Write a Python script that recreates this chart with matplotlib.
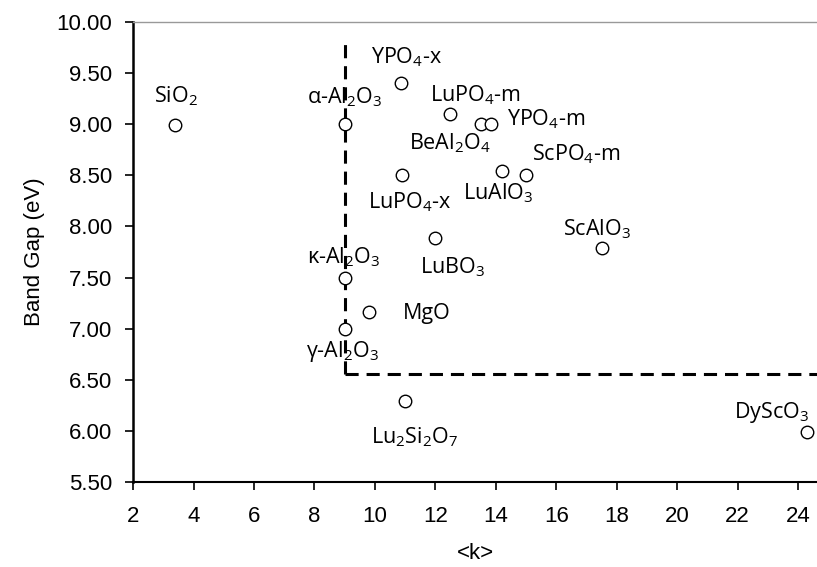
import matplotlib
matplotlib.use("Agg")
import matplotlib.pyplot as plt

# datos
materiales = ["SiO$_2$", "α-Al$_2$O$_3$", "κ-Al$_2$O$_3$", "γ-Al$_2$O$_3$", "MgO",
              "YPO$_4$-x", "LuPO$_4$-x", "LuPO$_4$-m", "BeAl$_2$O$_4$", "YPO$_4$-m",
              "LuAlO$_3$", "ScPO$_4$-m", "LuBO$_3$", "ScAlO$_3$", "Lu$_2$Si$_2$O$_7$",
              "DyScO$_3$"]
k_medio = [3.4, 9.0, 9.0, 9.0, 9.8, 10.85, 10.9, 12.5, 13.5, 13.85, 14.2, 15.0,
           12.0, 17.5, 11.0, 24.3]
band_gap = [8.99, 9.0, 7.5, 7.0, 7.16, 9.40, 8.50, 9.10, 9.0, 9.0, 8.54, 8.50,
            7.89, 7.79, 6.29, 5.99]

# limites de la region de interes
k_limite = 9.0
gap_limite = 6.56
gap_tope = 9.85

# desplazamiento de cada etiqueta (pixeles, x a la derecha, y hacia abajo)
desplazamientos = [(0, -29), (0, -27), (-1, -20), (-2, 23), (58, 1),
                   (6, -26), (8, 27), (25, -19), (-31, 19), (55, -5),
                   (-4, 22), (50, -21), (17, 29), (-5, -19), (9, 36),
                   (-35, -19)]

plt.rcParams["mathtext.default"] = "regular"

fig = plt.figure(figsize=(8.17, 5.67), dpi=100)
ax = fig.add_axes([0.163, 0.150, 0.837, 0.811])

ax.plot([k_limite, k_limite], [gap_limite, gap_tope], color="black",
        linewidth=2.2, linestyle=(0, (4.3, 2.6)), zorder=2)
ax.plot([k_limite, 26], [gap_limite, gap_limite], color="black",
        linewidth=2.2, linestyle=(0, (4.3, 2.6)), zorder=2)

ax.plot(k_medio, band_gap, linestyle="none", marker="o", markersize=9,
        markerfacecolor="white", markeredgecolor="black", markeredgewidth=1.0,
        zorder=3)

for nombre, x, y, (dx, dy) in zip(materiales, k_medio, band_gap, desplazamientos):
    ax.annotate(nombre, (x, y), xytext=(dx * 0.72, -dy * 0.72),
                textcoords="offset points", ha="center", va="center",
                fontsize=15.5, family=["Open Sans", "DejaVu Sans"], zorder=4)

ax.set_xlim(2, 24.63)
ax.set_ylim(5.5, 10.0)
ax.set_xticks(range(2, 25, 2))
ax.set_yticks([5.5, 6.0, 6.5, 7.0, 7.5, 8.0, 8.5, 9.0, 9.5, 10.0])
ax.set_yticklabels([f"{v:.2f}" for v in ax.get_yticks()])

for lab in ax.get_xticklabels() + ax.get_yticklabels():
    lab.set_family("Liberation Sans")
    lab.set_fontsize(16)

ax.tick_params(direction="out", length=6, width=1.2)
ax.tick_params(axis="x", pad=11)
ax.tick_params(axis="y", pad=9)
ax.spines["left"].set_linewidth(1.8)
ax.spines["bottom"].set_linewidth(1.5)
ax.spines["top"].set_color("#999999")
ax.spines["top"].set_linewidth(1.0)
ax.spines["right"].set_visible(False)

ax.set_xlabel("<k>", fontsize=16, family="Liberation Sans", labelpad=12)
ax.set_ylabel("Band Gap (eV)", fontsize=16, family="Liberation Sans", labelpad=8)

plt.savefig("out.png", dpi=100)
